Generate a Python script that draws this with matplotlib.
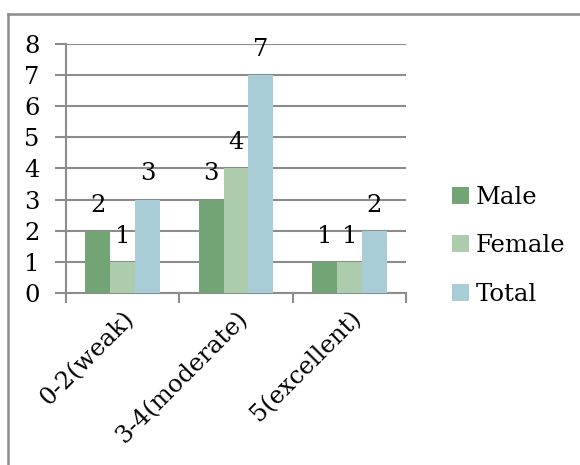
import numpy as np
import matplotlib.pyplot as plt
from matplotlib.lines import Line2D

categories = ["0-2(weak)", "3-4(moderate)", "5(excellent)"]
male = [2, 3, 1]
female = [1, 4, 1]
total = [3, 7, 2]
series_names = ["Male", "Female", "Total"]
colors = ["#72a475", "#adcbad", "#a8cdd7"]

plt.rcParams['font.family'] = ['DejaVu Serif']
grey = "#8c8c8c"
fs = 17.5

fig = plt.figure(figsize=(5.8, 4.65), dpi=100)
ax = fig.add_axes([0.1138, 0.3699, 0.5862, 0.5355])

x = np.arange(len(categories))
w = 0.22
for i, (vals, name, c) in enumerate(zip([male, female, total], series_names, colors)):
    pos = x + (i - 1) * w
    ax.bar(pos, vals, width=w, color=c, label=name, zorder=3)
    for px, v in zip(pos, vals):
        ax.annotate(str(v), (px, v), xytext=(0, 18.5), textcoords="offset points",
                    ha="center", va="center", fontsize=fs)

ax.set_xlim(-0.5, 2.5)
ax.set_ylim(0, 8)
ax.set_yticks(range(0, 9))
ax.yaxis.grid(True, color=grey, linewidth=1.5, zorder=0)
ax.tick_params(axis="y", length=8, width=1.5, color=grey, pad=11, labelsize=fs)

# category labels at centres, tick marks at the boundaries
ax.set_xticks(x)
ax.set_xticklabels(categories, rotation=45, ha="right", rotation_mode="anchor", fontsize=fs)
ax.tick_params(axis="x", which="major", length=0, pad=10)
ax.set_xticks(np.arange(-0.5, 3, 1), minor=True)
ax.tick_params(axis="x", which="minor", length=7, width=1.5, color=grey)

for s in ["top", "right"]:
    ax.spines[s].set_visible(False)
for s in ["left", "bottom"]:
    ax.spines[s].set_color(grey)
    ax.spines[s].set_linewidth(1.5)

ax.legend(loc="center left", bbox_to_anchor=(1.07, 0.19), frameon=False,
          fontsize=fs, handlelength=0.7, handleheight=0.7, handletextpad=0.3,
          labelspacing=1.05)

# outer chart frame (top and left edges)
fig.add_artist(Line2D([8 / 580, 1], [1 - 14 / 465] * 2, color=grey, linewidth=1.8,
                      transform=fig.transFigure))
fig.add_artist(Line2D([8 / 580] * 2, [0, 1 - 14 / 465], color=grey, linewidth=1.8,
                      transform=fig.transFigure))

fig.savefig("out.png", dpi=100, facecolor="white")
